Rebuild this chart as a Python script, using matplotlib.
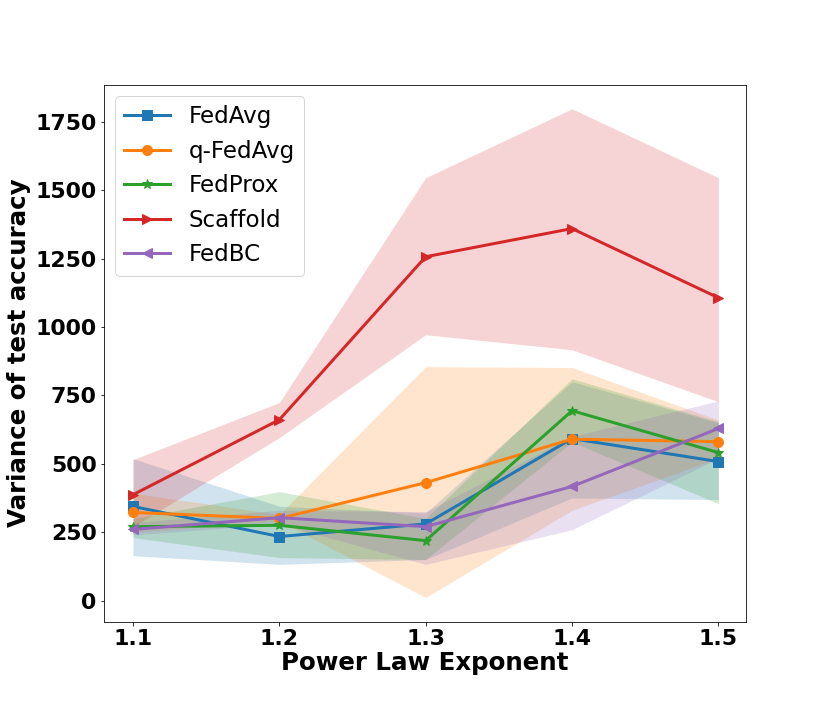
import numpy as np
import matplotlib
matplotlib.use('Agg')
import matplotlib.pyplot as plt

exponents = [1.1, 1.2, 1.3, 1.4, 1.5]
names = ['FedAvg', 'q-FedAvg', 'FedProx', 'Scaffold', 'FedBC']
markers = ['s', 'o', '*', '>', '<']

fedavg = [344, 234, 280, 592, 508]
fedavg_lo = [164, 132, 150, 375, 369]
fedavg_hi = [519, 345, 320, 800, 650]

qfedavg = [322, 300, 431, 590, 581]
qfedavg_lo = [250, 290, 11, 330, 520]
qfedavg_hi = [392, 315, 855, 852, 660]

fedprox = [270, 275, 219, 694, 541]
fedprox_lo = [230, 157, 150, 580, 354]
fedprox_hi = [300, 398, 300, 811, 654]

scaffold = [387, 661, 1257, 1360, 1107]
scaffold_lo = [270, 596, 972, 917, 727]
scaffold_hi = [515, 724, 1546, 1798, 1546]

fedbc = [260, 303, 270, 417, 629]
fedbc_lo = [240, 280, 132, 259, 520]
fedbc_hi = [285, 330, 325, 600, 730]

series = [
    (fedavg, fedavg_lo, fedavg_hi),
    (qfedavg, qfedavg_lo, qfedavg_hi),
    (fedprox, fedprox_lo, fedprox_hi),
    (scaffold, scaffold_lo, scaffold_hi),
    (fedbc, fedbc_lo, fedbc_hi),
]

fig = plt.figure(figsize=(830 / 72, 712 / 72), dpi=72)
ax = fig.add_axes([0.125, 0.127, 0.774, 0.754])

for i, (mean, lo, hi) in enumerate(series):
    c = 'C%d' % i
    ax.plot(exponents, mean, marker=markers[i], color=c, lw=3, ms=10, label=names[i])
    ax.fill_between(exponents, lo, hi, color=c, alpha=0.2, lw=0)

ax.set_xticks(exponents)
ax.set_xticklabels([str(e) for e in exponents])
ax.set_yticks([0, 250, 500, 750, 1000, 1250, 1500, 1750])
ax.set_ylim(-77, 1886)
ax.set_xlim(1.080, 1.519)
for lab in ax.get_xticklabels() + ax.get_yticklabels():
    lab.set_fontsize(22)
    lab.set_fontweight('bold')
ax.set_xlabel('Power Law Exponent', fontsize=24.5, fontweight='bold', labelpad=2)
ax.set_ylabel('Variance of test accuracy', fontsize=24.5, fontweight='bold')
ax.legend(loc='upper left', fontsize=23)

fig.savefig('out.png', dpi=72)
